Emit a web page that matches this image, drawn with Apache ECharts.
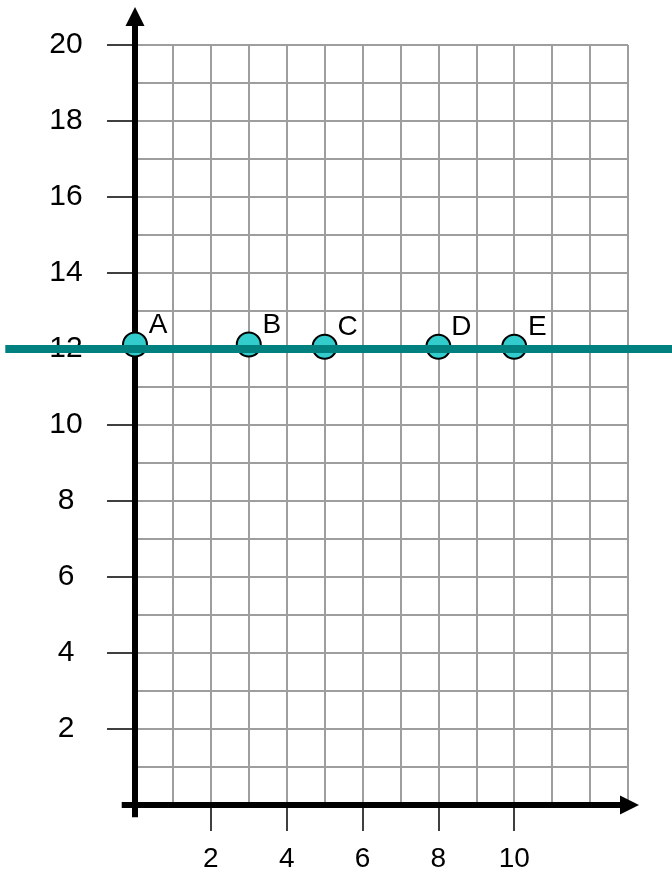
<!DOCTYPE html>
<html>
<head>
<meta charset="utf-8">
<script src="https://cdn.jsdelivr.net/npm/echarts@6/dist/echarts.min.js"></script>
<style>html,body{margin:0;padding:0;background:#fff}#c{width:672px;height:878px}</style>
</head>
<body>
<div id="c"></div>
<script>
// ---- data ----
const pointNames = ['A', 'B', 'C', 'D', 'E'];
const pointX = [0, 3, 5, 8, 10];
const pointY = [12.12, 12.12, 12.06, 12.06, 12.06];
const lineX = [-3.42, 14.6];
const lineY = [12, 12];
const xTickLabels = [2, 4, 6, 8, 10];
const yTickLabels = [2, 4, 6, 8, 10, 12, 14, 16, 18, 20];
const xRange = [0, 13];
const yRange = [0, 20];
const xAxisShaft = [-0.35, 13.04];
const yAxisShaft = [-0.32, 20.75];

const font = '"Liberation Sans", Arial, sans-serif';
const chart = echarts.init(document.getElementById('c'), null, {renderer: 'canvas'});

const gridLineStyle = {color: '#9e9e9e', width: 2};

chart.setOption({
  animation: false,
  backgroundColor: '#fff',
  grid: {left: 135, right: 44, top: 45, bottom: 73, containLabel: false, outerBoundsMode: 'none'},
  xAxis: [
    {
      type: 'value', min: xRange[0], max: xRange[1], interval: 1, position: 'bottom',
      axisLine: {show: false},
      splitLine: {show: false},
      axisTick: {show: true, customValues: xTickLabels, length: 26, inside: false,
        lineStyle: {color: '#000', width: 1.5}},
      axisLabel: {show: true, customValues: xTickLabels, margin: 40,
        fontSize: 28, color: '#000', fontFamily: font}
    },
    { // grid lines every unit
      type: 'value', min: xRange[0], max: xRange[1], interval: 1, position: 'top',
      axisLine: {show: false}, axisTick: {show: false}, axisLabel: {show: false},
      splitLine: {show: true, lineStyle: gridLineStyle}
    }
  ],
  yAxis: [
    {
      type: 'value', min: yRange[0], max: yRange[1], interval: 1, position: 'left',
      axisLine: {show: false},
      splitLine: {show: false},
      axisTick: {show: true, customValues: yTickLabels, length: 28, inside: false,
        lineStyle: {color: '#000', width: 1.5}},
      axisLabel: {show: true, customValues: yTickLabels, margin: 69, align: 'center',
        padding: [8, 0, 0, 0],
        fontSize: 30, color: '#000', fontFamily: font}
    },
    {
      type: 'value', min: yRange[0], max: yRange[1], interval: 1, position: 'right',
      axisLine: {show: false}, axisTick: {show: false}, axisLabel: {show: false},
      splitLine: {show: true, lineStyle: gridLineStyle}
    }
  ],
  series: [
    { // axis shafts
      type: 'lines', coordinateSystem: 'cartesian2d', clip: false, silent: true, z: 3,
      polyline: false, symbol: 'none',
      lineStyle: {color: '#000', width: 6, opacity: 1},
      data: [
        {coords: xAxisShaft.map(v => [v, 0])},
        {coords: yAxisShaft.map(v => [0, v])}
      ]
    },
    { // arrow heads
      type: 'scatter', clip: false, silent: true, z: 3,
      symbol: 'triangle', symbolSize: [19, 19],
      itemStyle: {color: '#000', opacity: 1},
      data: [
        {value: [xAxisShaft[1], 0], symbolRotate: -90},
        {value: [0, yAxisShaft[1]], symbolRotate: 0}
      ]
    },
    { // points
      type: 'scatter', clip: false, z: 4,
      symbol: 'circle', symbolSize: 24,
      itemStyle: {color: '#33CCCC', borderColor: '#000', borderWidth: 2, opacity: 1},
      label: {show: true, position: 'top', distance: 5, offset: [23, 13],
        formatter: p => p.name, fontSize: 28, color: '#000', fontFamily: font},
      data: pointX.map((x, i) => ({name: pointNames[i], value: [x, pointY[i]]}))
    },
    { // horizontal line y = 12
      type: 'lines', coordinateSystem: 'cartesian2d', clip: false, silent: true, z: 5,
      polyline: false, symbol: 'none',
      lineStyle: {color: '#00807F', width: 8, opacity: 1},
      data: [{coords: lineX.map((x, i) => [x, lineY[i]])}]
    }
  ]
});
</script>
</body>
</html>
